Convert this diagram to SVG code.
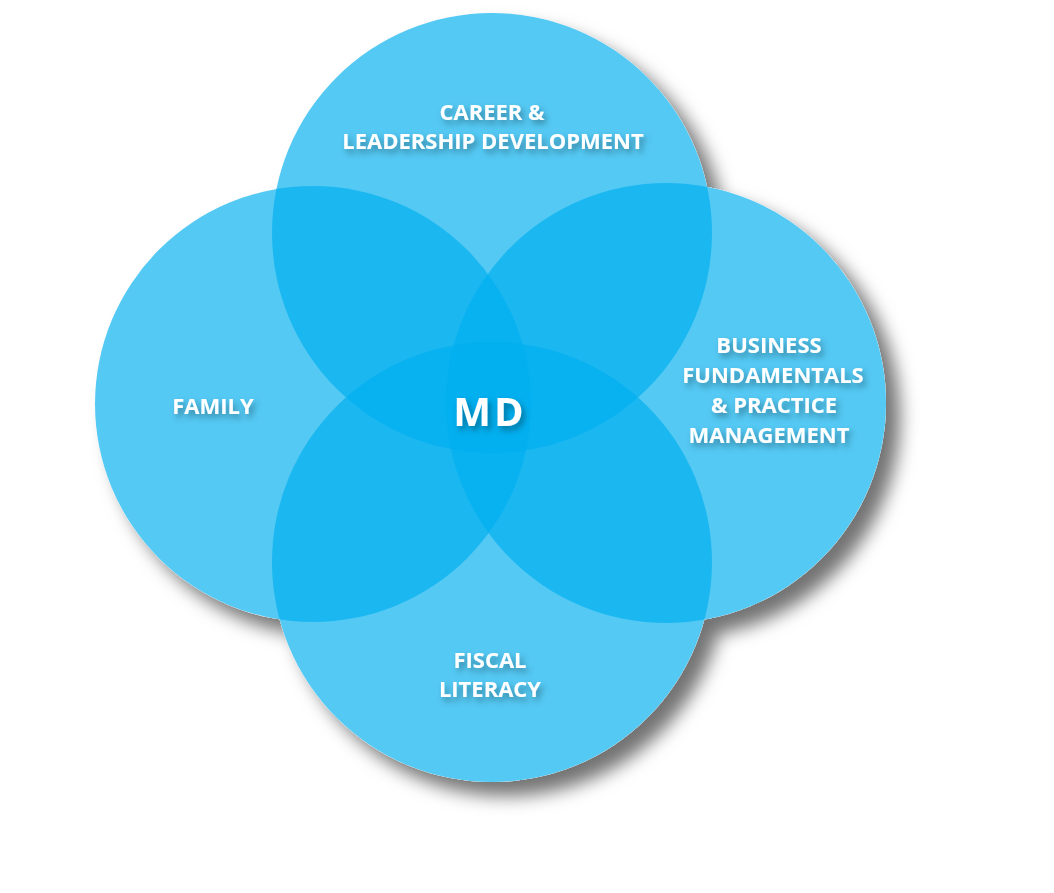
<svg xmlns="http://www.w3.org/2000/svg" width="1054" height="893" viewBox="0 0 1054 893">
<defs>
<filter id="sh" x="-20%" y="-20%" width="150%" height="150%"><feDropShadow dx="14" dy="14" stdDeviation="9" flood-color="#000" flood-opacity="0.55"/></filter>
<filter id="ts" x="-20%" y="-50%" width="140%" height="200%"><feDropShadow dx="3" dy="4" stdDeviation="3" flood-color="#000" flood-opacity="0.35"/></filter>
</defs>
<style>
.c{fill:#00aeef;fill-opacity:0.67}
.t{font-family:"Open Sans","Liberation Sans",sans-serif;font-weight:700;fill:#fff;font-size:22px;text-anchor:middle;filter:url(#ts)}
</style>
<rect width="1054" height="893" fill="#fff"/>
<g filter="url(#sh)" fill="#fff">
<circle cx="492" cy="233" r="220"/><circle cx="313" cy="404" r="218"/><circle cx="666" cy="403" r="220"/><circle cx="492" cy="562" r="220"/>
</g>
<g id="career"><circle class="c" cx="492" cy="233" r="220"/><text class="t" x="492" y="120">CAREER &amp;</text><text class="t" x="493" y="149">LEADERSHIP DEVELOPMENT</text></g>
<g id="family"><circle class="c" cx="313" cy="404" r="218"/><text class="t" x="213" y="414">FAMILY</text></g>
<g id="business"><circle class="c" cx="666" cy="403" r="220"/><text class="t" x="769" y="353">BUSINESS</text><text class="t" x="773" y="383">FUNDAMENTALS</text><text class="t" x="774" y="413">&amp; PRACTICE</text><text class="t" x="769" y="443">MANAGEMENT</text></g>
<g id="fiscal"><circle class="c" cx="492" cy="562" r="220"/><text class="t" x="490" y="668">FISCAL</text><text class="t" x="490" y="697">LITERACY</text></g>
<g id="md"><text class="t" x="490" y="426" style="font-size:40px;letter-spacing:3px">MD</text></g>
<g id="connectors"/>
</svg>
